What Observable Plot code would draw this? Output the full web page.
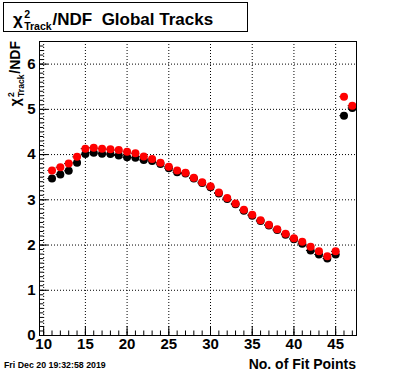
<!DOCTYPE html>
<html><head><meta charset="utf-8">
<script src="https://cdn.jsdelivr.net/npm/d3@7"></script>
<script src="https://cdn.jsdelivr.net/npm/@observablehq/plot@0.6"></script>
<style>html,body{margin:0;padding:0;background:#fff} svg{display:block}</style>
</head><body><div id="chart"></div>
<script>
const fitPoints = [11,12,13,14,15,16,17,18,19,20,21,22,23,24,25,26,27,28,29,30,31,32,33,34,35,36,37,38,39,40,41,42,43,44,45,46,47];
const chi2Black = [3.47,3.56,3.64,3.82,4.01,4.04,4.02,4.01,3.98,3.94,3.93,3.88,3.86,3.79,3.70,3.61,3.58,3.47,3.37,3.28,3.14,3.02,2.90,2.76,2.65,2.53,2.43,2.33,2.23,2.13,2.03,1.88,1.79,1.70,1.79,4.86,5.03];
const chi2Red   = [3.65,3.72,3.80,3.95,4.13,4.15,4.13,4.12,4.10,4.06,4.03,3.96,3.90,3.82,3.73,3.65,3.60,3.49,3.39,3.30,3.16,3.04,2.92,2.78,2.67,2.55,2.45,2.35,2.25,2.15,2.07,1.96,1.86,1.75,1.86,5.28,5.08];
const xMajorTicks = [10,15,20,25,30,35,40,45];
const xMinorTicks = d3.range(10, 48, 1);
const yMajorTicks = [0,1,2,3,4,5,6];
const yMinorTicks = d3.range(0, 65, 1).map(d => d / 10);
const yGridTicks = [1,2,3,4,5,6];

const titleText = "/NDF  Global Tracks";
const yTitleTail = "/NDF";
const xTitle = "No. of Fit Points";
const dateText = "Fri Dec 20 19:32:58 2019";

const FONT = "'Liberation Sans', Arial, Helvetica, sans-serif";
const rows = fitPoints.map((x, i) => ({x, black: chi2Black[i], red: chi2Red[i]}));
const halfBin = 0.5;

const chart = Plot.plot({
  width: 396, height: 372,
  marginLeft: 39, marginRight: 40, marginTop: 41, marginBottom: 37,
  style: {fontFamily: FONT, fontWeight: "bold", fontSize: "15px", background: "white", color: "black"},
  x: {domain: [9.5, 47.5], label: null},
  y: {domain: [0, 6.5], label: null},
  marks: [
    Plot.gridX(xMajorTicks, {stroke: "black", strokeOpacity: 1, strokeDasharray: "1,2"}),
    Plot.gridY(yGridTicks, {stroke: "black", strokeOpacity: 1, strokeDasharray: "1,2"}),
    Plot.axisX(xMinorTicks, {anchor: "bottom", tickSize: -4.5, tickFormat: () => ""}),
    Plot.axisX(xMajorTicks, {anchor: "bottom", tickSize: -9, tickFormat: () => ""}),
    Plot.axisX(xMajorTicks, {anchor: "bottom", tickSize: 0, tickPadding: 3, fontSize: 15, fontWeight: "bold"}),
    Plot.axisY(yMinorTicks, {anchor: "left", tickSize: -4.5, tickFormat: () => ""}),
    Plot.axisY(yMajorTicks, {anchor: "left", tickSize: -9, tickFormat: () => ""}),
    Plot.axisY(yMajorTicks, {anchor: "left", tickSize: 0, tickPadding: 4, fontSize: 15, fontWeight: "bold"}),
    Plot.ruleY(rows, {y: "black", x1: d => d.x - halfBin, x2: d => d.x + halfBin, stroke: "black"}),
    Plot.dot(rows, {x: "x", y: "black", r: 4, fill: "black", stroke: null}),
    Plot.ruleY(rows, {y: "red", x1: d => d.x - halfBin, x2: d => d.x + halfBin, stroke: "black"}),
    Plot.dot(rows, {x: "x", y: "red", r: 4, fill: "#ff0000", stroke: null}),
    Plot.frame({stroke: "black"})
  ]
});
document.getElementById("chart").appendChild(chart);

const svg = d3.select(chart);

function chiLabel(parent, size, tail) {
  const g = parent.append("g").attr("font-family", FONT).attr("font-weight", "bold")
    .attr("fill", "black").attr("text-anchor", "start");
  const chi = g.append("text").attr("x", 0).attr("y", 0).attr("font-size", size).text("χ");
  const w1 = chi.node().getComputedTextLength() + size * 0.08;
  const sup = g.append("text").attr("x", w1).attr("y", -0.42 * size).attr("font-size", 0.62 * size).text("2");
  const sub = g.append("text").attr("x", w1).attr("y", 0.32 * size).attr("font-size", 0.62 * size).text("Track");
  const w2 = Math.max(sup.node().getComputedTextLength(), sub.node().getComputedTextLength()) + size * 0.05;
  const t = g.append("text").attr("x", w1 + w2).attr("y", 0).attr("font-size", size).text(tail);
  const total = w1 + w2 + t.node().getComputedTextLength();
  return {g, total};
}

// Title box
svg.append("rect").attr("x", 3.5).attr("y", 2.5).attr("width", 244).attr("height", 29)
  .attr("fill", "white").attr("stroke", "black");
const title = chiLabel(svg, 17, titleText);
title.g.attr("transform", "translate(13,25)");

// Y axis title (rotated)
const yt = chiLabel(svg, 14, yTitleTail);
yt.g.attr("transform", `translate(20,${41 + yt.total}) rotate(-90)`);

// X axis title
svg.append("text").attr("x", 356).attr("y", 369).attr("text-anchor", "end")
  .attr("font-family", FONT).attr("font-weight", "bold").attr("font-size", 14).text(xTitle);

// Date stamp
svg.append("text").attr("x", 4).attr("y", 368).attr("text-anchor", "start")
  .attr("font-family", FONT).attr("font-weight", "bold").attr("font-size", 8.8).text(dateText);
</script>
</body></html>
